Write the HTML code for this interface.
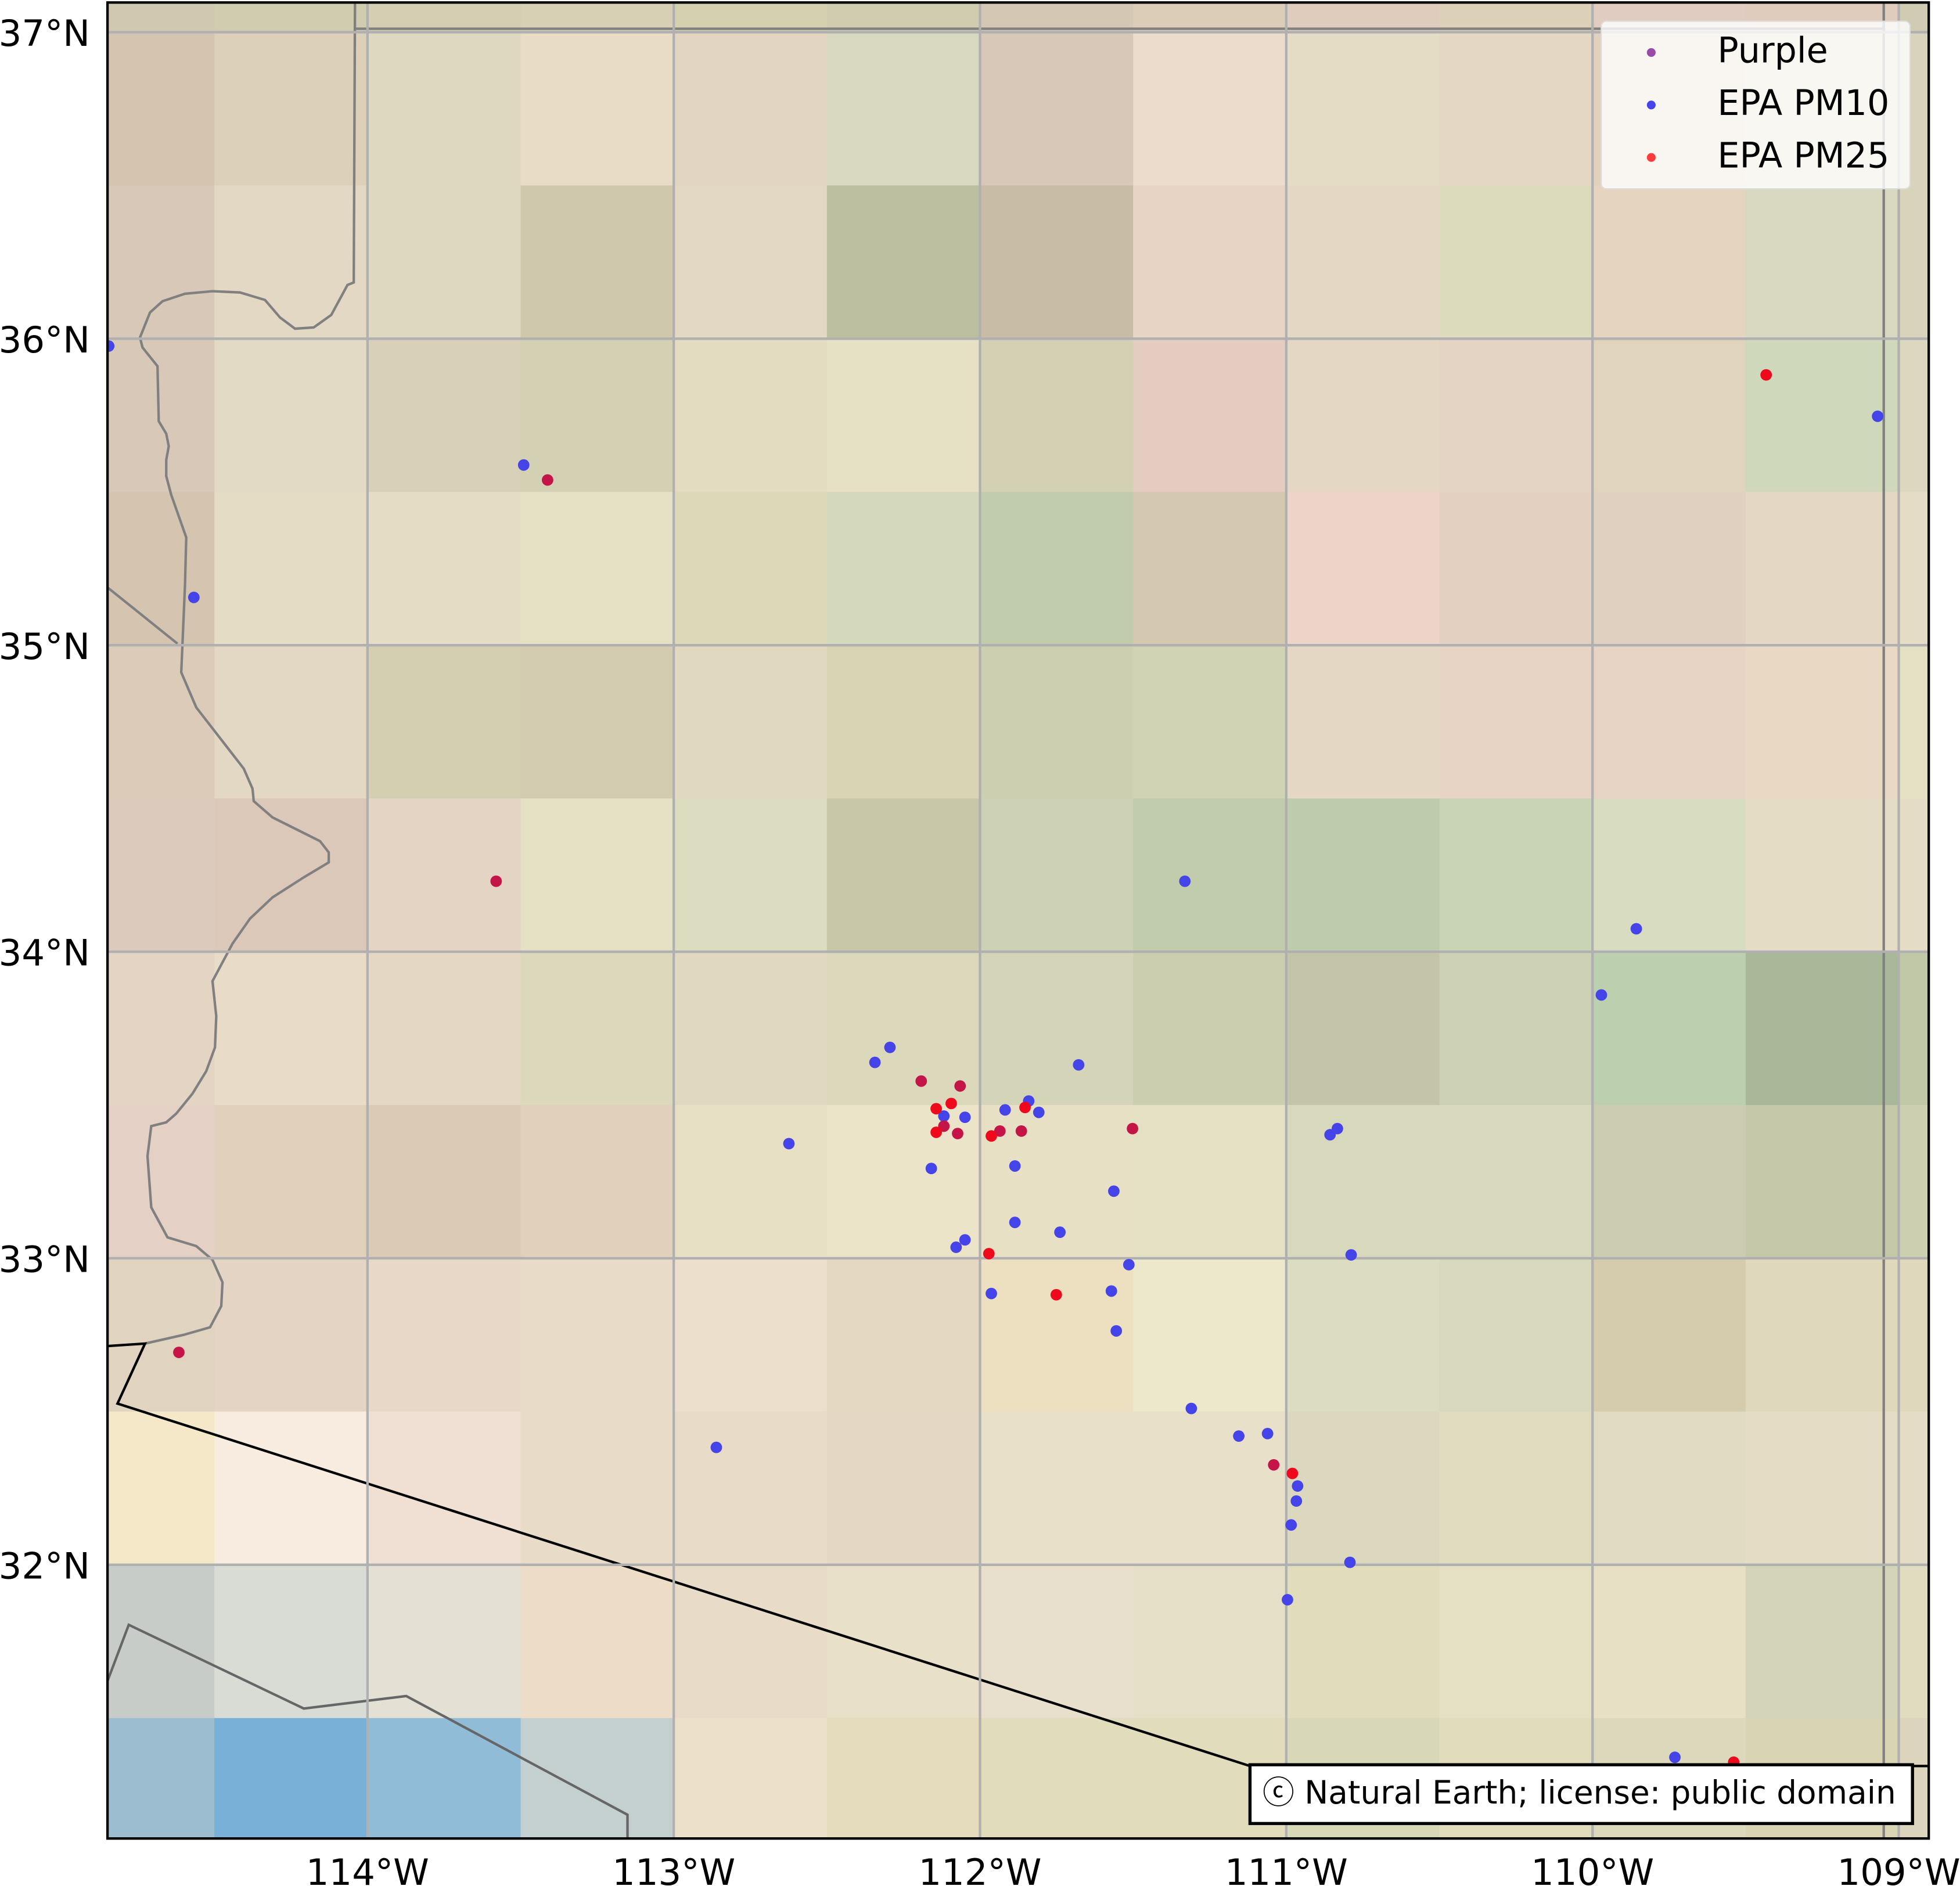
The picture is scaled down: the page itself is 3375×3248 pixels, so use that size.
<!DOCTYPE html>
<html><head><meta charset="utf-8"><style>
html,body{margin:0;padding:0;background:#fff;}
svg{display:block;}
text{font-family:"DejaVu Sans","Liberation Sans",sans-serif;fill:#000;}
</style></head><body>
<svg id="map" width="3375" height="3248" viewBox="0 0 1568 1509" preserveAspectRatio="none" xmlns="http://www.w3.org/2000/svg">
<defs><clipPath id="clip"><rect x="86" y="2" width="1457" height="1469"/></clipPath></defs>
<g id="tiles" clip-path="url(#clip)"></g>
<g clip-path="url(#clip)" fill="none">
<polyline stroke="#808080" stroke-width="2" points="284,2 283,226 278,228 265,252 251,262 236,263 224,254 212,240 192,234 170,233 148,235 130,241 120,250 112,270 114,278 126,293 127,337 133,347 135,357 133,368 133,381 137,396 149,430 148,468 145,538 157,566 195,615 202,631 203,641 218,654 256,673 263,682 263,690 243,702 218,718 200,735 186,755 170,785 173,813 172,838 165,857 154,875 141,891 133,898 121,901 118,925 121,966 134,990 157,997 170,1008 178,1026 177,1045 168,1062 147,1068 116,1075"/>
<polyline stroke="#808080" stroke-width="2" points="86,470 142,515"/>
<polyline stroke="#808080" stroke-width="2" points="284,23 1508,23"/>
<polyline stroke="#808080" stroke-width="2" points="1507,2 1507,1471"/>
<polyline stroke="#666" stroke-width="2" points="86,1345 103,1300 243,1367 325,1357 502,1452 502,1471"/>
<polyline stroke="#000" stroke-width="2" points="86,1077 116,1075 94,1123 1000,1413 1543,1413"/>
</g>
<g id="grid"></g>
<g id="points" clip-path="url(#clip)"></g>
<rect x="86" y="2" width="1457" height="1469" fill="none" stroke="#000" stroke-width="2"/>
<g id="ticks"></g>
<g>
<rect x="1281" y="17" width="247" height="134" rx="4" fill="#fff" fill-opacity="0.8" stroke="#ddd" stroke-width="1"/>
<g><circle cx="1321" cy="42" r="3.5" fill="#9a4aa8"/><text x="1374" y="50" font-size="28">Purple</text></g>
<g><circle cx="1321" cy="84" r="3.5" fill="#4444e8"/><text x="1374" y="92" font-size="28">EPA PM10</text></g>
<g><circle cx="1321" cy="126" r="3.5" fill="#ff3b3b"/><text x="1374" y="134" font-size="28">EPA PM25</text></g>
</g>
<g>
<rect x="1000" y="1412" width="530" height="47" fill="#fff" stroke="#000" stroke-width="2.5"/>
<text x="1010" y="1443" font-size="25.5">ⓒ Natural Earth; license: public domain</text>
</g>
</svg>
<script>
const tileCols = ["-115","-114.5","-114","-113.5","-113","-112.5","-112","-111.5","-111","-110.5","-110","-109.5","-109"];
const tileColors = [
["d0c8b0","d0ccb0","d4cdb2","d8d0b4","d4d0b0","d0ccb0","d4c8b4","dccdb8","e0ccbc","dcd0b8","e0ccc0","e0ccbc","d0ccb4"],
["d4c4b0","dcd0b8","dfd8c0","e8dcc4","e2d6c2","d8d8c0","d8c8b8","ecdccc","e4dcc4","e4d8c4","e0d0bc","dcd4bc","d8d4bc"],
["d8c8b8","e2d8c4","dfd8c0","cfc8ac","e2d8c4","bcbea0","c8bca4","e8d4c4","e4d8c4","dcdcbc","e4d4c0","d8d8c0","d8d4bc"],
["d8c8b8","e2dac4","d8d0b8","d4d0b4","e4dcc0","e6e0c4","d4d0b4","e4ccc0","e4d8c4","e4d4c4","e0d4bc","d0d8bc","dcd8c0"],
["d4c4b0","e4dcc4","e4dcc4","e4e0c4","dcd8b8","d4d8bc","c0ccac","d4c8b0","ecd4c8","e4d0c0","e0d0c0","e4d8c4","e4dcc4"],
["dccbb8","e2d8c4","d4cfb0","d4ccb0","e0d8c0","d8d4b4","cccfb0","d0d4b4","e4d8c4","e8d4c4","e8d4c4","e8d8c4","e4e0c4"],
["dccbbc","dcc8b8","e4d4c4","e4e0c4","dcdcc0","c8c8a8","ccd0b4","c0ccac","bcccac","c8d4b4","d8dcc0","e4dcc4","e4dcc4"],
["e4d4c4","e8dcc8","e4d8c4","dcd8bc","e0d8c0","dcd8bc","d4d4b8","ccceb0","c4c4a8","ccd0b4","bcd0b0","a8b898","c0c8a8"],
["e4d0c4","e0d0bc","dccbb4","e0d0bc","e8e0c4","ece4c8","e8e0c4","e4e0c4","d8d8bc","d8d8bc","ccccb0","c4c8a8","cccfb0"],
["e0d4c0","e4d4c4","e8d8c8","e8dcc8","ece0cc","e4d8c0","ece0c0","ece8cc","dcdcc0","d8d8bc","d4ccac","e0d8bc","e0d8bc"],
["f4e8c8","f8ece0","f0e0d4","e8dcc8","e8dcc8","e4d8c4","e8e0c8","e8e0c8","dcd8c0","e0dcc0","e0dcc4","e4dcc4","e4dcc4"],
["c8ccc8","d8dcd4","e4e0d4","ecdcc8","e8dcc8","e8e0c8","e8e0cc","e4e0c8","e0dcbc","e4e0c4","e8e0c4","d4d4b8","e0dcc0"],
["9cbcd0","78b0d8","90bcd8","c4d0d0","ece0c8","e4dcbc","e0dcbc","e0dcbc","d8d8b8","e0dcbc","dcd8bc","d8d4b4","dcd4bc"]];
const tileRowTops = [37.5,37,36.5,36,35.5,35,34.5,34,33.5,33,32.5,32,31.5];
const lonTicks = [-114,-113,-112,-111,-110,-109];
const lonTickLabels = ["114°W","113°W","112°W","111°W","110°W","109°W"];
const latTicks = [37,36,35,34,33,32];
const latTickLabels = ["37°N","36°N","35°N","34°N","33°N","32°N"];
const pm10Lon = [-114.845,-113.490,-114.567,-111.331,-109.857,-109.971,-109.069,-112.343,-112.294,-111.678,-112.624,-111.918,-111.841,-111.808,-112.118,-112.049,-112.159,-111.886,-111.563,-110.857,-110.833,-111.886,-111.739,-112.049,-112.078,-111.514,-110.788,-111.963,-111.571,-111.555,-112.861,-111.310,-111.155,-111.061,-110.963,-110.967,-110.984,-110.792,-110.996,-109.731];
const pm10Lat = [35.976,35.588,35.156,34.230,34.075,33.859,35.747,33.639,33.688,33.631,33.374,33.484,33.513,33.476,33.464,33.460,33.293,33.301,33.219,33.403,33.423,33.117,33.085,33.060,33.036,32.979,33.011,32.885,32.893,32.763,32.383,32.510,32.420,32.428,32.257,32.208,32.130,32.008,31.886,31.372];
const pm25Lon = [-109.433,-112.143,-112.094,-112.143,-111.853,-111.971,-111.751,-110.980,-111.963,-109.539];
const pm25Lat = [35.882,33.488,33.505,33.411,33.492,33.015,32.881,32.298,33.399,31.356];
const purpleLon = [-113.412,-113.580,-114.616,-112.192,-112.065,-112.073,-112.118,-111.935,-111.865,-111.502,-111.041];
const purpleLat = [35.539,34.230,32.693,33.578,33.562,33.407,33.431,33.415,33.415,33.423,32.326];

const NS='http://www.w3.org/2000/svg';
function xS(lon){return 294+(lon+114)*245;}
function yS(lat){return 271+(36-lat)*245.25;}
function mk(tag,attrs,parent){const e=document.createElementNS(NS,tag);for(const k in attrs)e.setAttribute(k,attrs[k]);parent.appendChild(e);return e;}

const tiles=document.getElementById('tiles');
tileRowTops.forEach((lt,r)=>{tileCols.forEach((lc,c)=>{
  const lon=parseFloat(lc);
  const e=mk('rect',{x:xS(lon),y:yS(lt),width:xS(lon+0.5)-xS(lon)+0.5,height:yS(lt-0.5)-yS(lt)+0.5,fill:'#'+tileColors[r][c]},tiles);
  
  
});});

const grid=document.getElementById('grid');
const ticks=document.getElementById('ticks');
lonTicks.forEach((lon,i)=>{
  const l=mk('line',{x1:xS(lon),x2:xS(lon),y1:2,y2:1471,stroke:'#b0b0b0','stroke-width':2},grid);
  
  
  const t=mk('text',{x:xS(lon),y:1508,'font-size':29,'text-anchor':'middle'},ticks);
  t.textContent=lonTickLabels[i];
  
  
});
latTicks.forEach((lat,i)=>{
  const l=mk('line',{x1:86,x2:1543,y1:yS(lat),y2:yS(lat),stroke:'#b0b0b0','stroke-width':2},grid);
  
  
  const t=mk('text',{x:72,y:yS(lat)+11,'font-size':29,'text-anchor':'end'},ticks);
  t.textContent=latTickLabels[i];
  
  
});

const pts=document.getElementById('points');
function series(lons,lats,color,name){
  lons.forEach((lon,i)=>{
    const c=mk('circle',{cx:xS(lon),cy:yS(lats[i]),r:4.6,fill:color},pts);
    
    
  });
}
series(pm10Lon,pm10Lat,'#4444e8','pm10-station');
series(purpleLon,purpleLat,'#c41448','purple-station');
series(pm25Lon,pm25Lat,'#ee0a1c','pm25-station');
</script>
</body></html>
